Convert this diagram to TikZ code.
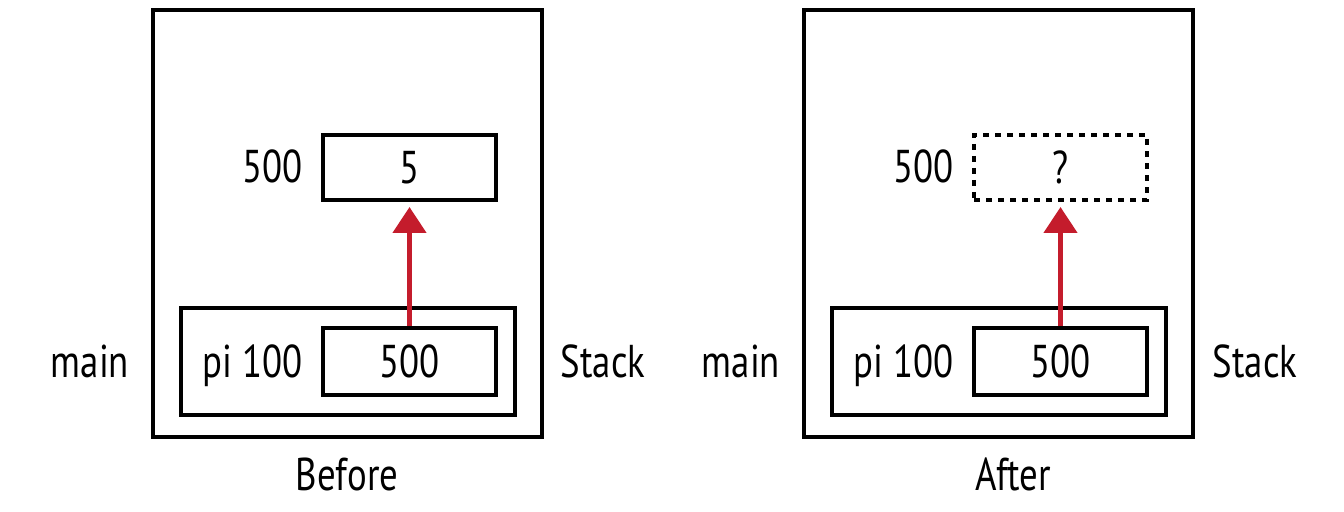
\documentclass[tikz,border=0pt]{standalone}
\usepackage{fontspec}
\setmainfont{PT Sans}[FakeStretch=0.8]
\usetikzlibrary{arrows.meta}
\definecolor{mred}{RGB}{196,28,44}
\tikzset{
  box/.style={draw=black, line width=2.4pt, inner sep=0pt, minimum width=86.5pt},
  outerbox/.style={draw=black, line width=2.4pt, inner sep=0pt, minimum width=194.5pt, minimum height=213.5pt},
  framebox/.style={draw=black, line width=2.4pt, inner sep=0pt, minimum width=167pt, minimum height=53.5pt},
  dotbox/.style={box, dash pattern=on 3pt off 3pt},
  lbl/.style={inner sep=0pt, font=\fontsize{23}{27}\selectfont},
  ptr/.style={draw=mred, line width=2.3pt, -{Triangle[width=16.5pt,length=13pt]}}
}
\begin{document}
\begin{tikzpicture}[x=0.5pt,y=-0.5pt]
\useasboundingbox (0,0) rectangle (1344,512);
% Before
\node[outerbox] (o1) at (347.5,223.5) {};
\node[box, minimum height=32.5pt, lbl] (v1) at (409.5,167.5) {5};
\node[framebox] (f1) at (348,361.5) {};
\node[box, minimum height=33.5pt, lbl] (p1) at (409.5,361.5) {500};
\node[lbl, anchor=base east] (a1) at (303,183) {500};
\node[lbl, anchor=base east] (n1) at (303,378) {pi 100};
\node[lbl, anchor=base] (m1) at (90,378) {main};
\node[lbl, anchor=base] (s1) at (603,378) {Stack};
\node[lbl, anchor=base] (b1) at (347,491) {Before};
\coordinate (t1) at (409.5,207);
\draw[ptr] (p1.north) -- (t1);
% After
\node[outerbox] (o2) at (998.5,223.5) {};
\node[dotbox, minimum height=32.5pt, lbl] (v2) at (1060.5,167.5) {?};
\node[framebox] (f2) at (999,361.5) {};
\node[box, minimum height=33.5pt, lbl] (p2) at (1060.5,361.5) {500};
\node[lbl, anchor=base east] (a2) at (954,183) {500};
\node[lbl, anchor=base east] (n2) at (954,378) {pi 100};
\node[lbl, anchor=base] (m2) at (741,378) {main};
\node[lbl, anchor=base] (s2) at (1255,378) {Stack};
\node[lbl, anchor=base] (b2) at (1013,491) {After};
\coordinate (t2) at (1060.5,207);
\draw[ptr] (p2.north) -- (t2);
\end{tikzpicture}
\end{document}
